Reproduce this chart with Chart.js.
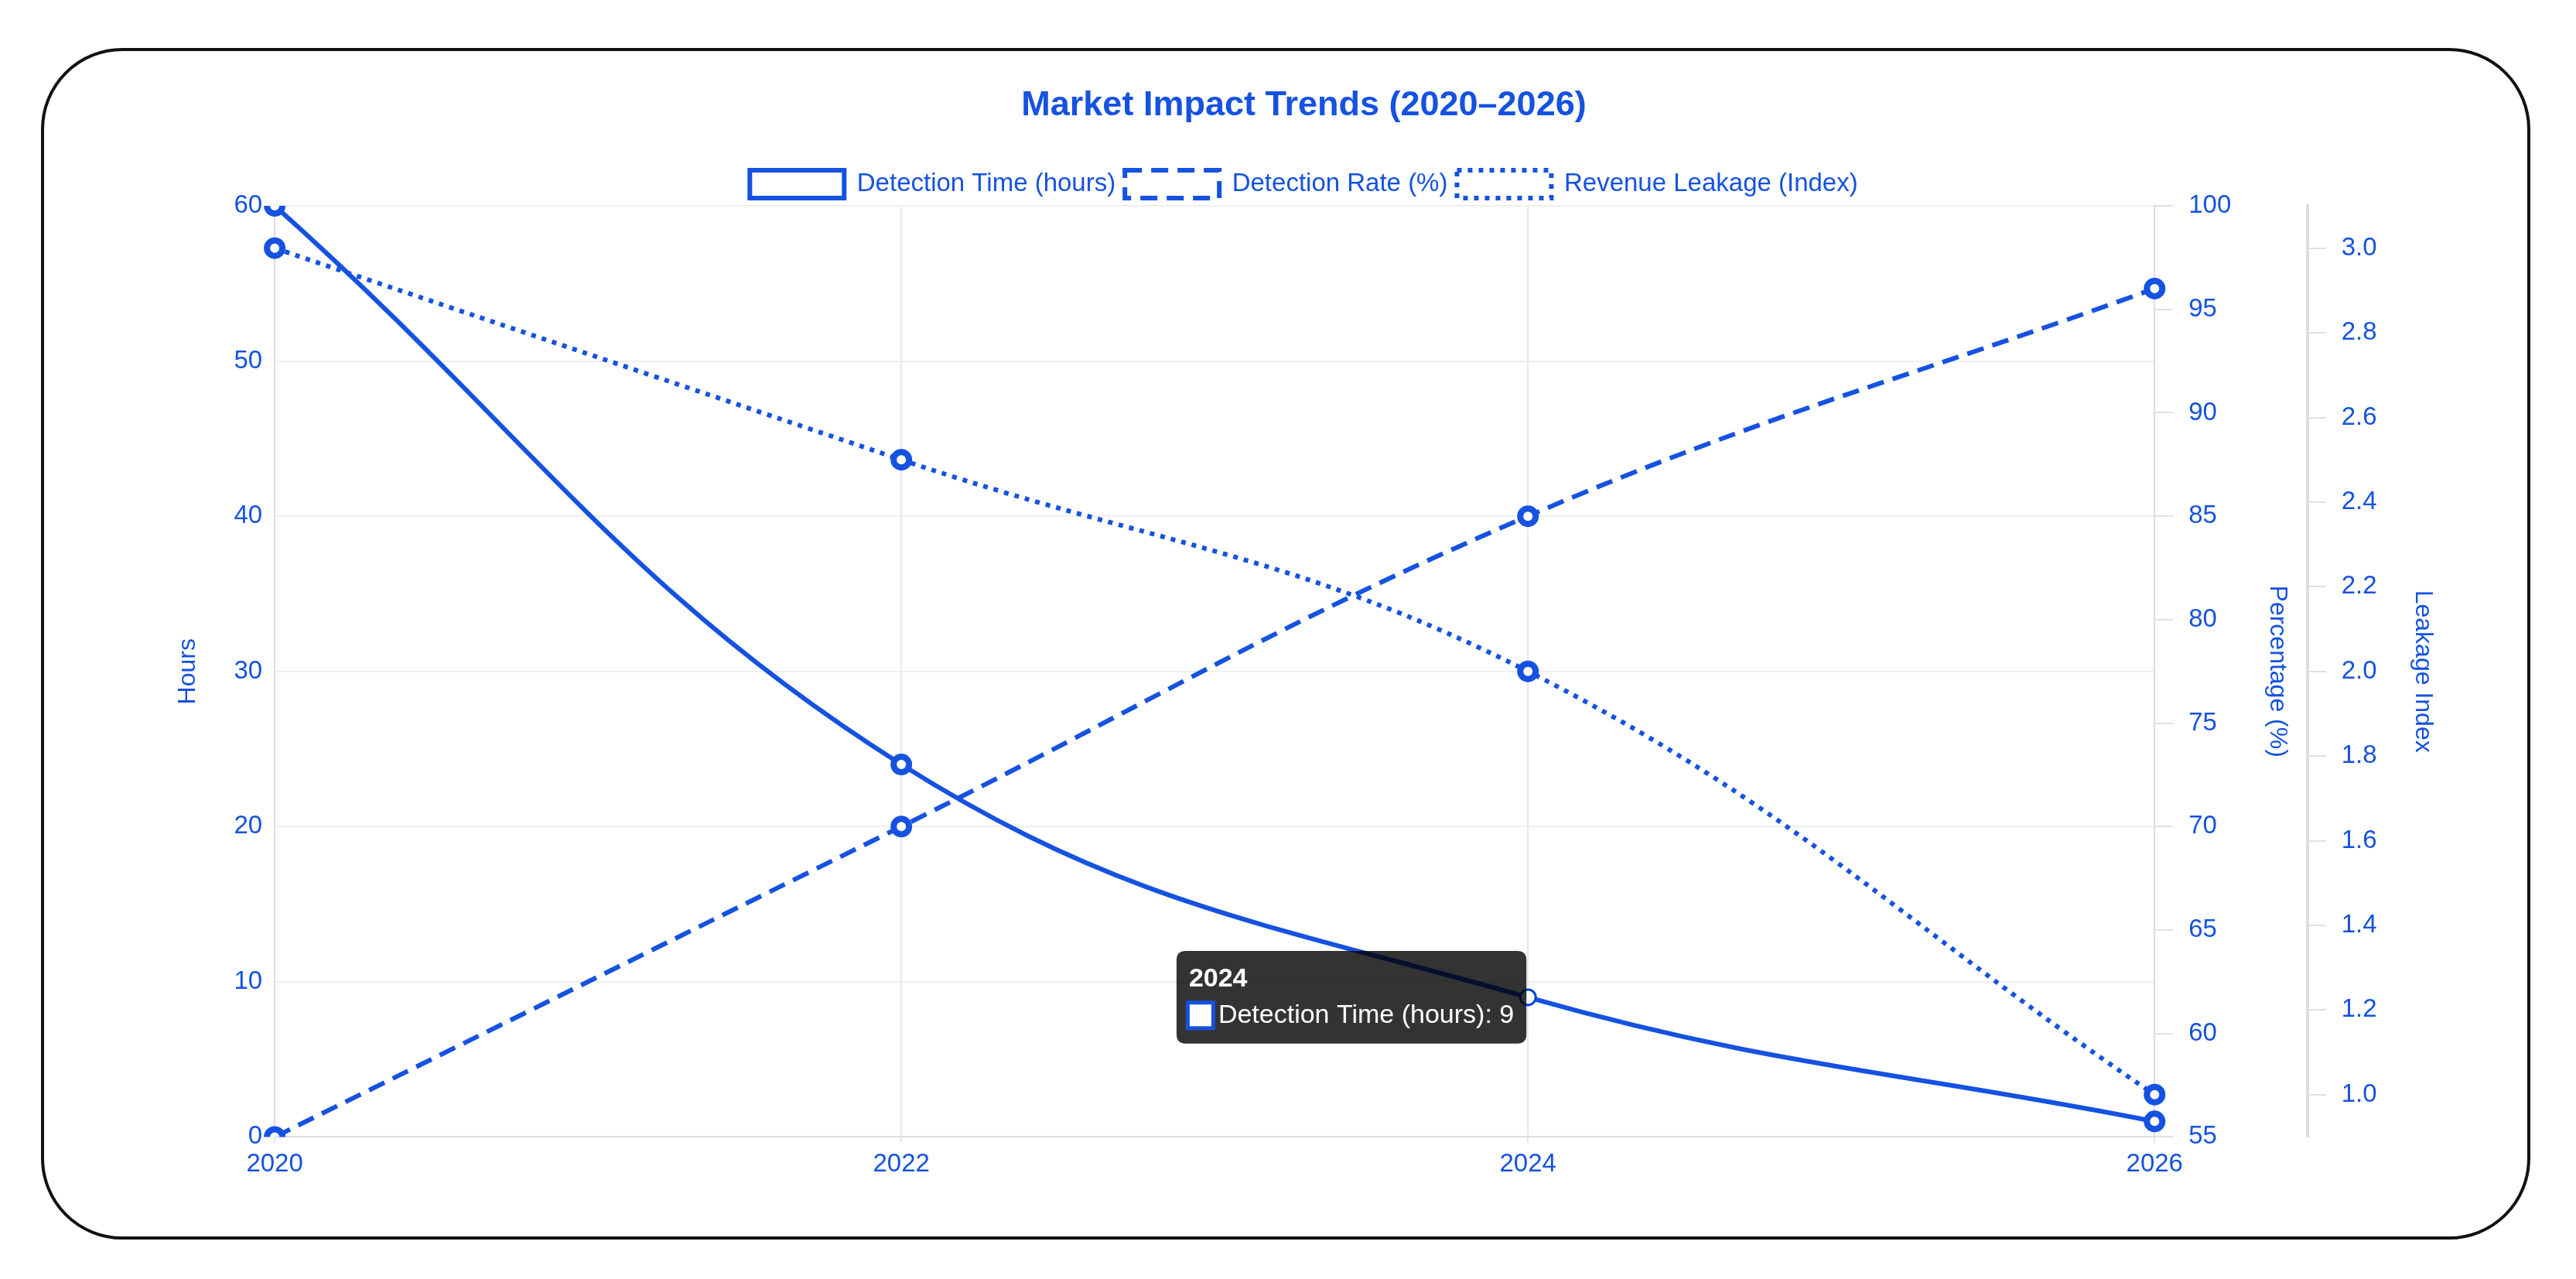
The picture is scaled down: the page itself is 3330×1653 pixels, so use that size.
<!DOCTYPE html>
<html><head><meta charset="utf-8">
<script src="https://cdn.jsdelivr.net/npm/chart.js@4.4.1/dist/chart.umd.min.js"></script>
<style>
html,body{margin:0;padding:0;background:#fff;width:3330px;height:1653px;overflow:hidden}
#card{position:absolute;left:53px;top:62px;width:3218px;height:1540px;border:4px solid #111;border-radius:105px;box-sizing:border-box}
#wrap{position:absolute;left:0;top:0;width:3330px;height:1653px}
</style></head><body>
<div id="card"></div>
<div id="wrap"><canvas id="c"></canvas></div>
<script>
const years = ['2020','2022','2024','2026'];
const detectionTime = [60, 24, 9, 1];
const detectionRate = [55, 70, 85, 96];
const revenueLeakage = [3.0, 2.5, 2.0, 1.0];
const leakageTicks = [1.0,1.2,1.4,1.6,1.8,2.0,2.2,2.4,2.6,2.8,3.0];
const blue = '#1552e0';
const F = 'Arial, "Liberation Sans", sans-serif';
Chart.defaults.font.family = F;
Chart.defaults.color = blue;
const common = {borderColor: blue, backgroundColor: '#fff', borderWidth: 6, tension: 0.4, pointRadius: 10, pointBorderWidth: 8, pointBackgroundColor: '#fff', pointHoverRadius: 10, pointHoverBorderWidth: 3, pointHoverBackgroundColor:'#fff', fill:false};
const chart = new Chart(document.getElementById('c'), {
  type: 'line',
  data: {labels: years, datasets: [
    Object.assign({label:'Detection Time (hours)', data: detectionTime, yAxisID:'y'}, common),
    Object.assign({label:'Detection Rate (%)', data: detectionRate, yAxisID:'y1', borderDash:[22,12]}, common),
    Object.assign({label:'Revenue Leakage (Index)', data: revenueLeakage, yAxisID:'y2', borderDash:[6,8]}, common)
  ]},
  options: {
    responsive:false, devicePixelRatio:1, animation:false,
    layout:{padding:{left:200,right:135,top:100,bottom:120}},
    interaction:{mode:'nearest', intersect:true},
    plugins:{
      title:{display:true, text:'Market Impact Trends (2020–2026)', color:blue, font:{size:45, weight:'bold'}, padding:{top:10,bottom:44}},
      legend:{labels:{boxWidth:122, boxHeight:36, font:{size:33}, padding:12, color:blue}},
      tooltip:{backgroundColor:'rgba(0,0,0,0.8)', titleFont:{size:34,weight:'bold'}, bodyFont:{size:34}, padding:16, cornerRadius:12, boxWidth:30, boxHeight:30, boxPadding:6, caretSize:0, xAlign:'right', yAlign:'center', titleColor:'#fff', bodyColor:'#fff'}
    },
    scales:{
      x:{grid:{color:'#e8e8e8', lineWidth:2}, border:{color:'#ddd', width:2}, ticks:{font:{size:33}, color:blue, padding:8}},
      y:{position:'left', min:0, max:60, ticks:{stepSize:10, font:{size:33}, color:blue, padding:16}, grid:{color:'#eeeeee', lineWidth:2, drawTicks:false}, border:{color:'#ddd',width:2}, title:{display:true, text:'Hours', color:blue, font:{size:32}, padding:24}},
      y1:{position:'right', min:55, max:100, ticks:{stepSize:5, font:{size:33}, color:blue, padding:20}, grid:{drawOnChartArea:false, color:'#e0e0e0', lineWidth:2, tickLength:24}, border:{color:'#ddd',width:2}, title:{display:true, text:'Percentage (%)', color:blue, font:{size:32}, padding:20}},
      y2:{position:'right', min:0.9, max:3.1, afterBuildTicks:(s)=>{s.ticks = leakageTicks.map(v=>({value:v}));}, ticks:{font:{size:33}, color:blue, padding:20, callback:(v)=>Number(v).toFixed(1)}, grid:{drawOnChartArea:false, color:'#e0e0e0', lineWidth:2, tickLength:24}, border:{color:'#ddd',width:4}, title:{display:true, text:'Leakage Index', color:blue, font:{size:32}, padding:20}}
    }
  }
});
chart.resize(3330,1653);
chart.setActiveElements([{datasetIndex:0,index:2}]);
chart.tooltip.setActiveElements([{datasetIndex:0,index:2}], {x:0,y:0});
chart.update();
</script></body></html>
